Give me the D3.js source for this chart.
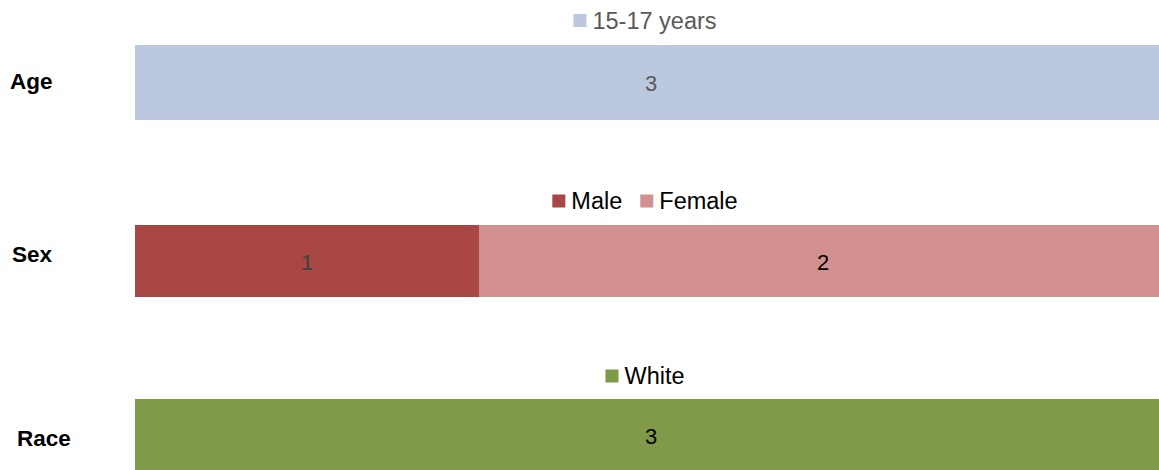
<!DOCTYPE html>
<html><head><meta charset="utf-8">
<script src="https://cdn.jsdelivr.net/npm/d3@7"></script>
<style>body{margin:0;background:#fff}svg{display:block}text{font-family:"Liberation Sans",Arial,sans-serif}</style>
</head><body><svg id="c" width="1159" height="470"></svg>
<script>
const categories = ["Age", "Sex", "Race"];
const ageSeries = [{name: "15-17 years", value: 3}];
const sexSeries = [{name: "Male", value: 1}, {name: "Female", value: 2}];
const raceSeries = [{name: "White", value: 3}];
const colors = {"15-17 years": "#bcc8e0", "Male": "#a94745", "Female": "#d29190", "White": "#7f9a48"};
const labelColors = {"15-17 years": "#595959", "Male": "#404040", "Female": "#000", "White": "#000"};
const legendTextColor = ["#595959", "#000", "#000"];

const svg = d3.select("#c");
const x = d3.scaleLinear().domain([0, 3]).range([135, 1167]);
const legendCenter = 645;
const panels = [
  {cat: categories[0], series: ageSeries, barTop: 45, barH: 75, legendY: 20.5, labelX: 10, labelY: 81},
  {cat: categories[1], series: sexSeries, barTop: 225, barH: 72, legendY: 201, labelX: 12, labelY: 254},
  {cat: categories[2], series: raceSeries, barTop: 399, barH: 72, legendY: 376, labelX: 17, labelY: 438}
];

panels.forEach((p, pi) => {
  const g = svg.append("g");
  let acc = 0;
  const stacked = p.series.map(s => { const o = {...s, x0: acc, x1: acc + s.value}; acc += s.value; return o; });
  g.selectAll("rect.bar").data(stacked).join("rect")
    .attr("x", d => x(d.x0)).attr("width", d => x(d.x1) - x(d.x0))
    .attr("y", p.barTop).attr("height", p.barH)
    .attr("fill", d => colors[d.name]);
  g.selectAll("text.val").data(stacked).join("text")
    .attr("x", d => (x(d.x0) + x(d.x1)) / 2).attr("y", p.barTop + p.barH / 2 + 1)
    .attr("text-anchor", "middle").attr("dominant-baseline", "central")
    .attr("font-size", 22).attr("fill", d => labelColors[d.name]).text(d => d.value);
  g.append("text").attr("x", p.labelX).attr("y", p.labelY)
    .attr("dominant-baseline", "central").attr("font-weight", "bold").attr("font-size", 22.5)
    .attr("fill", "#000").text(p.cat);
  // legend
  const lg = g.append("g");
  let lx = 0;
  p.series.forEach(s => {
    lg.append("rect").attr("x", lx).attr("y", p.legendY - 6.5).attr("width", 13).attr("height", 13).attr("fill", colors[s.name]);
    const t = lg.append("text").attr("x", lx + 19).attr("y", p.legendY).attr("dominant-baseline", "central")
      .attr("font-size", 23.5).attr("fill", legendTextColor[pi]).text(s.name);
    lx += 19 + t.node().getComputedTextLength() + 18;
  });
  const w = lx - 18;
  lg.attr("transform", `translate(${legendCenter - w / 2},0)`);
});
</script></body></html>
